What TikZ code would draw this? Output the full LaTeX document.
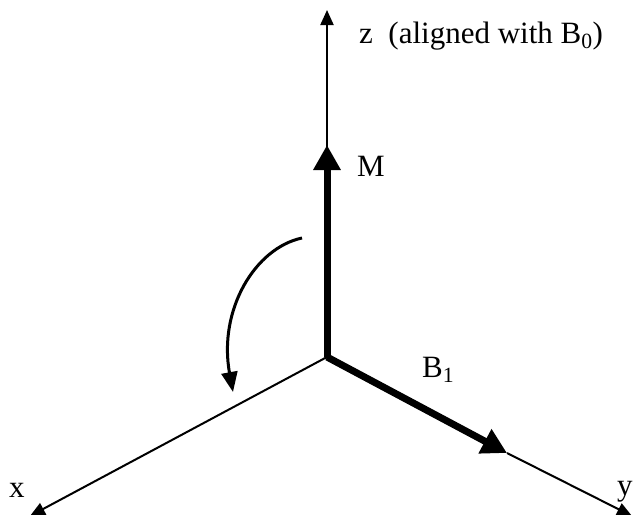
\documentclass[tikz,border=0pt]{standalone}
\usepackage{fontspec}
\setmainfont{Liberation Serif}
\usetikzlibrary{arrows.meta}
\begin{document}
\begin{tikzpicture}[x=1pt,y=-1pt,
 axis/.style={line width=2pt,-{Triangle[length=15pt,width=13pt]}},
 vec/.style={line width=7pt,-{Triangle[length=25pt,width=26pt]}},
 rot/.style={line width=3pt,-{Triangle[length=20pt,width=16pt]}},
 lab/.style={font=\fontsize{31}{33}\selectfont,inner sep=0pt,anchor=base west}]
\useasboundingbox (0,0) rectangle (634,514);
\coordinate (O) at (327,357);
\coordinate (Z) at (327,10);
\coordinate (M) at (327,145);
\coordinate (X) at (30,516);
\coordinate (B) at (507,453);
\coordinate (Y) at (632,516);
\coordinate (R1) at (302,238);
\coordinate (R2) at (233,392);
\draw[axis] (O) -- (Z);
\draw[axis] (O) -- (X);
\draw[axis] (B) -- (Y);
\draw[vec] (O) -- (M);
\draw[vec] (O) -- (B);
\draw[rot] (R1) .. controls (255,248) and (218,310) .. (R2);
\node[lab] (zl) at (359,43) {z\ \ (aligned with B\textsubscript{0})};
\node[lab] (ml) at (357,176) {M};
\node[lab] (bl) at (422,377) {B\textsubscript{1}};
\node[lab] (xl) at (9,497) {x};
\node[lab] (yl) at (617,495) {y};
\end{tikzpicture}
\end{document}
